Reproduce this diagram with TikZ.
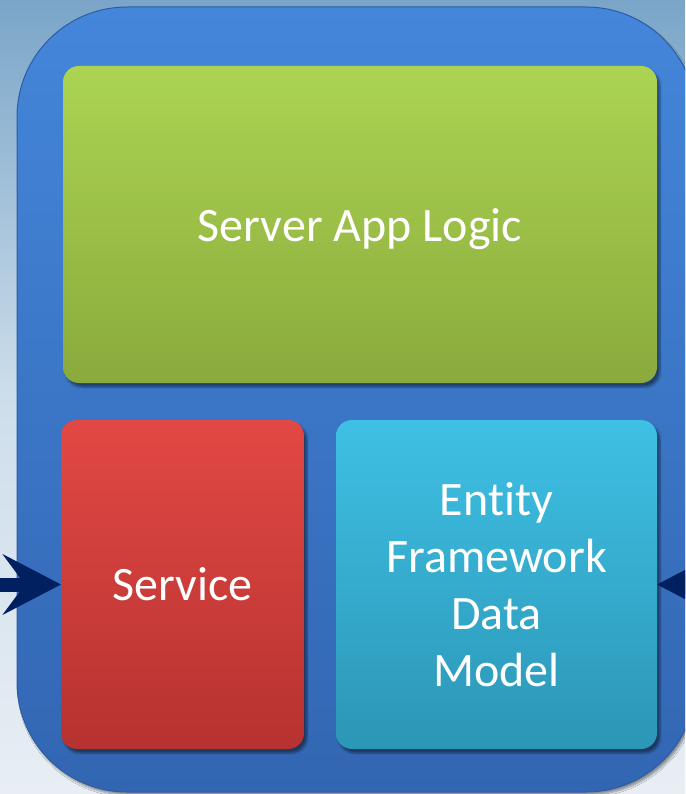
\documentclass[tikz,border=0pt]{standalone}
\usepackage{fontspec}
\setmainfont[Ligatures={NoCommon}]{Carlito}
\usetikzlibrary{arrows.meta,shadows.blur}
\definecolor{bgtop}{RGB}{122,165,200}
\definecolor{bgbot}{RGB}{232,238,244}
\definecolor{bluetop}{RGB}{68,134,218}
\definecolor{bluebot}{RGB}{50,102,178}
\definecolor{blueedge}{RGB}{45,92,165}
\definecolor{greentop}{RGB}{172,212,82}
\definecolor{greenbot}{RGB}{138,170,60}
\definecolor{redtop}{RGB}{226,72,68}
\definecolor{redbot}{RGB}{182,50,48}
\definecolor{cyantop}{RGB}{62,192,228}
\definecolor{cyanbot}{RGB}{44,150,182}
\definecolor{navy}{RGB}{0,32,96}
\tikzset{
  panel/.style={rectangle, rounded corners=16pt, inner sep=0pt, outer sep=0pt,
    text=white, align=center, font={\fontsize{48}{57}\selectfont},
    blur shadow={shadow xshift=3pt, shadow yshift=-4pt, shadow blur steps=6, shadow opacity=45}},
  navyarrow/.style={draw=navy, line width=14pt,
    -{Stealth[length=58pt, width=60pt, inset=22pt, fill=navy]}}
}
\begin{document}
\begin{tikzpicture}[x=1pt, y=-1pt]
  \useasboundingbox (0,0) rectangle (685,794);
  \clip (0,0) rectangle (685,794);
  \shade[top color=bgtop, bottom color=bgbot, middle color={rgb,255:red,205;green,222;blue,235}] (0,0) rectangle (685,794);
  \node[rectangle, rounded corners=110pt, minimum width=679pt, minimum height=785pt,
        inner sep=0pt, outer sep=0pt, top color=bluetop, bottom color=bluebot,
        draw=blueedge, line width=1pt,
        blur shadow={shadow xshift=2pt, shadow yshift=-3pt, shadow blur steps=6, shadow opacity=40}]
        (outer) at (356.5,399.5) {};
  \node[panel, minimum width=594pt, minimum height=317pt, top color=greentop, bottom color=greenbot,
        text depth=0pt]
        (logic) at (360,224.5) {Server App Logic};
  \node[panel, minimum width=243pt, minimum height=329pt, top color=redtop, bottom color=redbot]
        (service) at (182.5,584.5) {Service};
  \node[panel, minimum width=321pt, minimum height=329pt, top color=cyantop, bottom color=cyanbot]
        (efdm) at (496.5,584.5) {Entity\\Framework\\Data\\Model};
  \coordinate (leftend) at (-10,584.5);
  \coordinate (rightend) at (780,584.5);
  \draw[navyarrow] (leftend) -- (service.west);
  \draw[navyarrow] (rightend) -- (efdm.east);
\end{tikzpicture}
\end{document}
